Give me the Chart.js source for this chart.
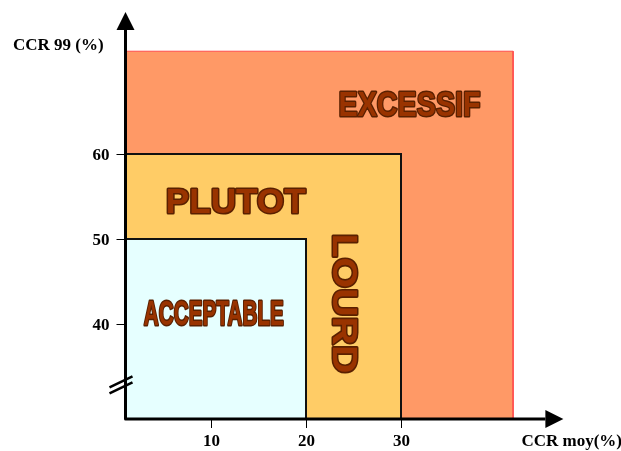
<!DOCTYPE html>
<html>
<head>
<meta charset="utf-8">
<script src="https://cdn.jsdelivr.net/npm/chart.js@4.4.1/dist/chart.umd.min.js"></script>
<style>
  body { margin: 0; background: #fff; }
  canvas { display: block; }
</style>
</head>
<body>
<canvas id="myChart" width="621" height="451"></canvas>
<script>
// zones, smallest first (drawn on top)
const zoneNames = ['ACCEPTABLE', 'PLUTOT LOURD', 'EXCESSIF'];
const zoneMaxX = [20, 30, 41.8];
const zoneMaxY = [50, 60, 72.1];
const xTicks = [10, 20, 30];
const yTicks = [40, 50, 60];
const xTitle = 'CCR moy(%)';
const yTitle = 'CCR 99 (%)';

const xMin = 1, xMax = 45.2;
const yMin = 28.8, yMax = 74.6;

const fills = ['#E6FFFF', '#FFCC66', '#FF9966'];
const borders = ['#111111', '#111111', '#FF4D4D'];
const borderWidths = [2, 2, 1];

const datasets = zoneNames.map(function(name, i) {
    return {
        label: name,
        data: [
            { x: xMin, y: zoneMaxY[i] },
            { x: zoneMaxX[i], y: zoneMaxY[i] },
            { x: zoneMaxX[i], y: yMin }
        ],
        showLine: true,
        borderColor: borders[i],
        borderWidth: borderWidths[i],
        backgroundColor: fills[i],
        fill: 'start',
        pointRadius: 0,
        tension: 0
    };
});

// text labels inside zones (data units) and their drawn width
const zoneLabels = [
    { text: 'EXCESSIF', x: 30.9, y: 66.0, w: 144, rot: false },
    { text: 'PLUTOT', x: 12.6, y: 54.6, w: 142, rot: false },
    { text: 'LOURD', x: 24.2, y: 42.4, w: 142, rot: true },
    { text: 'ACCEPTABLE', x: 10.3, y: 41.4, w: 142, rot: false }
];

function drawLabel(ctx, text, cx, cy, w, rot) {
    ctx.save();
    ctx.translate(cx, cy);
    if (rot) ctx.rotate(Math.PI / 2);
    ctx.font = 'bold 35px "Liberation Sans", Arial, sans-serif';
    const m = ctx.measureText(text).width;
    ctx.scale((w - 2) / m, 1);
    ctx.textAlign = 'center';
    ctx.textBaseline = 'alphabetic';
    ctx.lineJoin = 'round';
    ctx.lineWidth = 3;
    ctx.strokeStyle = '#5a2000';
    ctx.strokeText(text, 0, 13);
    ctx.fillStyle = '#993300';
    ctx.fillText(text, 0, 13);
    ctx.restore();
}

const axesPlugin = {
    id: 'axesPlugin',
    afterDatasetsDraw(chart) {
        const ctx = chart.ctx;
        const area = chart.chartArea;
        const xs = chart.scales.x;
        const ys = chart.scales.y;

        zoneLabels.forEach(function(l) {
            drawLabel(ctx, l.text, xs.getPixelForValue(l.x), ys.getPixelForValue(l.y), l.w, l.rot);
        });

        ctx.save();
        ctx.strokeStyle = '#000';
        ctx.fillStyle = '#000';
        ctx.lineWidth = 3;
        ctx.lineJoin = 'round';
        // axes
        ctx.beginPath();
        ctx.moveTo(area.left, area.top - 2);
        ctx.lineTo(area.left, area.bottom);
        ctx.lineTo(area.right, area.bottom);
        ctx.stroke();
        // arrows
        ctx.beginPath();
        ctx.moveTo(area.left, area.top - 18);
        ctx.lineTo(area.left - 9, area.top);
        ctx.lineTo(area.left + 9, area.top);
        ctx.closePath();
        ctx.fill();
        ctx.beginPath();
        ctx.moveTo(area.right + 18, area.bottom);
        ctx.lineTo(area.right, area.bottom - 9);
        ctx.lineTo(area.right, area.bottom + 9);
        ctx.closePath();
        ctx.fill();

        // ticks
        ctx.lineWidth = 1;
        ctx.font = 'bold 17px "Liberation Serif", "Times New Roman", serif';
        yTicks.forEach(function(v) {
            const py = Math.round(ys.getPixelForValue(v)) + 0.5;
            ctx.beginPath();
            ctx.moveTo(area.left - 9, py);
            ctx.lineTo(area.left, py);
            ctx.stroke();
            ctx.textAlign = 'right';
            ctx.textBaseline = 'middle';
            ctx.fillText(String(v), area.left - 16, py + 1);
        });
        xTicks.forEach(function(v) {
            const px = Math.round(xs.getPixelForValue(v)) + 0.5;
            ctx.beginPath();
            ctx.moveTo(px, area.bottom);
            ctx.lineTo(px, area.bottom + 9);
            ctx.stroke();
            ctx.textAlign = 'center';
            ctx.textBaseline = 'middle';
            ctx.fillText(String(v), px, area.bottom + 23);
        });

        // titles
        ctx.textAlign = 'left';
        ctx.textBaseline = 'middle';
        ctx.fillText(yTitle, 13, area.top + 16);
        ctx.fillText(xTitle, area.right - 24, area.bottom + 23);

        // axis break
        const by = ys.getPixelForValue(33.1);
        ctx.lineWidth = 2.5;
        ctx.beginPath();
        ctx.moveTo(area.left - 16, by + 5);
        ctx.lineTo(area.left + 7, by - 6);
        ctx.moveTo(area.left - 16, by + 11);
        ctx.lineTo(area.left + 7, by);
        ctx.stroke();
        ctx.restore();
    }
};

const ctx = document.getElementById('myChart').getContext('2d');
new Chart(ctx, {
    type: 'scatter',
    data: { datasets: datasets },
    options: {
        responsive: false,
        animation: false,
        layout: { padding: { left: 125.5, right: 75.6, top: 30, bottom: 32 } },
        plugins: { legend: { display: false }, tooltip: { enabled: false } },
        scales: {
            x: { type: 'linear', min: xMin, max: xMax, display: false },
            y: { type: 'linear', min: yMin, max: yMax, display: false }
        }
    },
    plugins: [axesPlugin]
});
</script>
</body>
</html>
